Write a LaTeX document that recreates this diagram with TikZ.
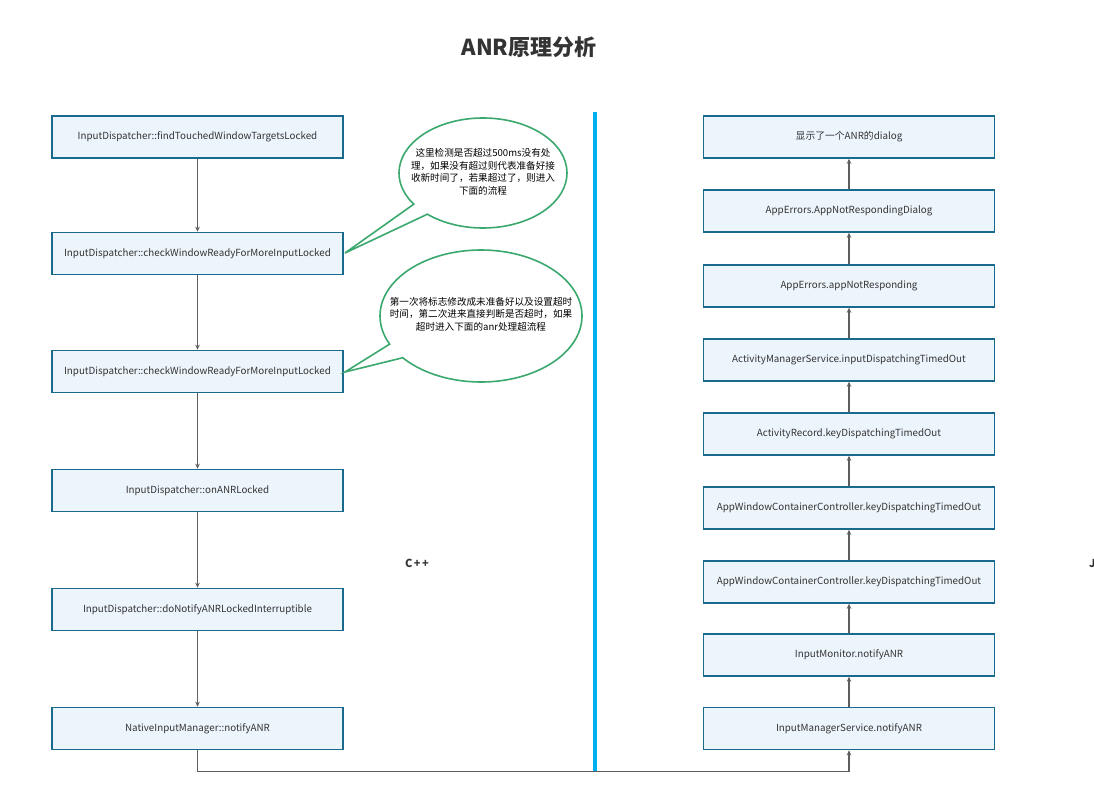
\documentclass[tikz,border=0pt]{standalone}
\usepackage{fontspec}
\setmainfont{Noto Sans CJK SC}
\usetikzlibrary{arrows.meta,shapes.callouts,calc}
\definecolor{boxfill}{HTML}{EDF5FC}
\definecolor{boxline}{HTML}{1A6A8E}
\definecolor{conn}{HTML}{5E5E5E}
\definecolor{callgreen}{HTML}{3BA86E}
\definecolor{divider}{HTML}{00B0F0}
\definecolor{txt}{HTML}{333333}
\begin{document}
\begin{tikzpicture}[x=1pt,y=-1pt,
  flowbox/.style={draw=boxline,line width=1.6pt,fill=boxfill,minimum width=291pt,minimum height=42pt,
    inner sep=0pt,text=txt,font=\fontsize{9.8}{12}\selectfont},
  arr/.style={draw=conn,line width=1.3pt,-{Stealth[length=5pt,width=4.5pt]}},
  bubble/.style={ellipse callout,draw=callgreen,line width=1.6pt,fill=white,inner sep=0pt,callout pointer arc=14},
  bubtext/.style={align=center,text=black,font=\fontsize{9.6}{12.6}\selectfont,inner sep=0pt}]
\useasboundingbox[fill=white] (0,0) rectangle (1094,794);
% title
\node[font=\fontsize{22}{26}\selectfont\bfseries,text=txt] (title) at (529,47) {ANR原理分析};
% divider
\draw[divider,line width=4pt] (595,112) -- (595,771);
% left column
\node[flowbox] (l1) at (197.5,137) {InputDispatcher::findTouchedWindowTargetsLocked};
\node[flowbox] (l2) at (197.5,253.5) {InputDispatcher::checkWindowReadyForMoreInputLocked};
\node[flowbox] (l3) at (197.5,371.5) {InputDispatcher::checkWindowReadyForMoreInputLocked};
\node[flowbox] (l4) at (197.5,490.5) {InputDispatcher::onANRLocked};
\node[flowbox] (l5) at (197.5,609.5) {InputDispatcher::doNotifyANRLockedInterruptible};
\node[flowbox] (l6) at (197.5,728.5) {NativeInputManager::notifyANR};
\draw[arr] (l1) -- (l2);
\draw[arr] (l2) -- (l3);
\draw[arr] (l3) -- (l4);
\draw[arr] (l4) -- (l5);
\draw[arr] (l5) -- (l6);
% right column
\node[flowbox] (r1) at (849,137) {显示了一个ANR的dialog};
\node[flowbox] (r2) at (849,211) {AppErrors.AppNotRespondingDialog};
\node[flowbox] (r3) at (849,286) {AppErrors.appNotResponding};
\node[flowbox] (r4) at (849,360) {ActivityManagerService.inputDispatchingTimedOut};
\node[flowbox] (r5) at (849,434) {ActivityRecord.keyDispatchingTimedOut};
\node[flowbox] (r6) at (849,508) {AppWindowContainerController.keyDispatchingTimedOut};
\node[flowbox] (r7) at (849,582) {AppWindowContainerController.keyDispatchingTimedOut};
\node[flowbox] (r8) at (849,655) {InputMonitor.notifyANR};
\node[flowbox] (r9) at (849,728.5) {InputManagerService.notifyANR};
\draw[arr] (r2) -- (r1);
\draw[arr] (r3) -- (r2);
\draw[arr] (r4) -- (r3);
\draw[arr] (r5) -- (r4);
\draw[arr] (r6) -- (r5);
\draw[arr] (r7) -- (r6);
\draw[arr] (r8) -- (r7);
\draw[arr] (r9) -- (r8);
% cross connector
\draw[arr] (l6.south) -- ++(0,21) -| (r9.south);
% callouts
\coordinate (tip1) at (345,253);
\coordinate (tip2) at (345,372);
\node[bubble,minimum width=168pt,minimum height=110pt,callout absolute pointer={(tip1)}] (c1) at (483,173) {};
\node[bubtext] (c1t) at (483,172) {这里检测是否超过500ms没有处\\理，如果没有超过则代表准备好接\\收新时间了，若果超过了，则进入\\下面的流程};
\node[bubble,minimum width=202pt,minimum height=132pt,callout absolute pointer={(tip2)}] (c2) at (481,316) {};
\node[bubtext] (c2t) at (481,314) {第一次将标志修改成未准备好以及设置超时\\时间，第二次进来直接判断是否超时，如果\\超时进入下面的anr处理超流程};
% language labels
\node[font=\fontsize{11}{13}\selectfont\bfseries,text=txt] (cpp) at (417,563) {C\kern1.5pt+\kern1.5pt+};
\node[font=\fontsize{11}{13}\selectfont\bfseries,text=txt,anchor=west,inner sep=0pt] (java) at (1089,563) {Java};
\end{tikzpicture}
\end{document}
